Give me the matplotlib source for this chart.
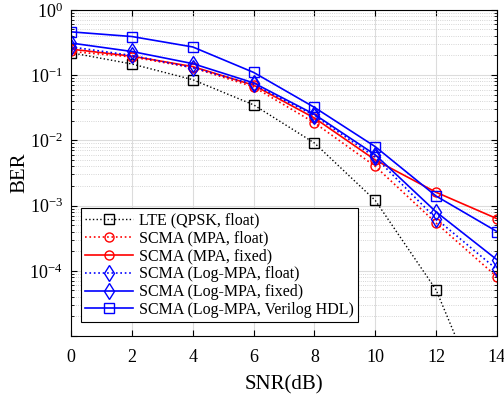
import numpy as np
import matplotlib
matplotlib.use("Agg")
import matplotlib.pyplot as plt
from matplotlib.ticker import LogLocator, NullFormatter

plt.rcParams['font.family'] = ['Liberation Serif', 'DejaVu Serif']
plt.rcParams['mathtext.fontset'] = 'custom'
plt.rcParams['mathtext.rm'] = 'Liberation Serif'

snr = [0, 2, 4, 6, 8, 10, 12, 14]

# BER curves
ber_lte = [0.22, 0.148, 0.085, 0.035, 0.0091, 0.0012, 5.1e-5, 3e-7]
ber_mpa_float = [0.23, 0.19, 0.13, 0.066, 0.0186, 0.0040, 5.4e-4, 8.1e-5]
ber_mpa_fixed = [0.25, 0.195, 0.135, 0.07, 0.022, 0.005, 0.0016, 6.3e-4]
ber_log_float = [0.27, 0.20, 0.13, 0.072, 0.024, 0.0055, 6.3e-4, 1.05e-4]
ber_log_fixed = [0.31, 0.23, 0.15, 0.076, 0.025, 0.006, 8.0e-4, 1.48e-4]
ber_verilog = [0.46, 0.39, 0.27, 0.11, 0.032, 0.0080, 0.0014, 4.0e-4]

labels = ['LTE (QPSK, float)', 'SCMA (MPA, float)', 'SCMA (MPA, fixed)',
          'SCMA (Log-MPA, float)', 'SCMA (Log-MPA, fixed)',
          'SCMA (Log-MPA, Verilog HDL)']
ytick_vals = [1e-5, 1e-4, 1e-3, 1e-2, 1e-1, 1]
ytick_labels = ['', r'$\mathrm{10^{-4}}$', r'$\mathrm{10^{-3}}$', r'$\mathrm{10^{-2}}$',
                r'$\mathrm{10^{-1}}$', r'$\mathrm{10^{0}}$']

fig = plt.figure(figsize=(5.04, 3.94), dpi=100)
ax = fig.add_axes([0.141, 0.147, 0.845, 0.828])

ms = 6.5
ax.semilogy(snr, ber_lte, ':', color='k', marker='s', mfc='none', ms=ms, lw=1, label=labels[0])
ax.semilogy(snr, ber_mpa_float, ':', color='r', marker='o', mfc='none', ms=ms, lw=1.2, label=labels[1])
ax.semilogy(snr, ber_mpa_fixed, '-', color='r', marker='o', mfc='none', ms=ms, lw=1.2, label=labels[2])
ax.semilogy(snr, ber_log_float, ':', color='b', marker='d', mfc='none', ms=ms + 1.5, lw=1.2, label=labels[3])
ax.semilogy(snr, ber_log_fixed, '-', color='b', marker='d', mfc='none', ms=ms + 1.5, lw=1.2, label=labels[4])
ax.semilogy(snr, ber_verilog, '-', color='b', marker='s', mfc='none', ms=ms, lw=1.2, label=labels[5])

ax.set_xlim(0, 14)
ax.set_ylim(1e-5, 1)
ax.set_xticks(snr)
ax.set_yticks(ytick_vals)
ax.set_yticklabels(ytick_labels)
ax.yaxis.set_minor_locator(LogLocator(base=10, subs=np.arange(2, 10), numticks=20))
ax.yaxis.set_minor_formatter(NullFormatter())

ax.grid(True, which='major', color='#dcdcdc', lw=0.8, ls='-')
ax.grid(True, which='minor', axis='y', color='#c8c8c8', lw=0.6, ls=':')
ax.tick_params(which='both', direction='in', top=True, right=True, labelsize=13)
ax.tick_params(which='major', length=4)
ax.tick_params(axis='x', which='major', pad=9)
ax.tick_params(axis='y', which='major', pad=6)
ax.tick_params(which='minor', length=2)
for s in ax.spines.values():
    s.set_linewidth(0.8)

ax.set_xlabel('SNR(dB)', fontsize=15, labelpad=7)
ax.set_ylabel('BER', fontsize=15, labelpad=0)

leg = ax.legend(loc='lower left', bbox_to_anchor=(0.023, 0.043), fontsize=11.5,
                handlelength=3.0, fancybox=False, edgecolor='k', framealpha=1,
                borderpad=0.25, labelspacing=0.12, handletextpad=0.4, borderaxespad=0)
leg.get_frame().set_linewidth(0.8)

fig.savefig('out.png', dpi=100)
